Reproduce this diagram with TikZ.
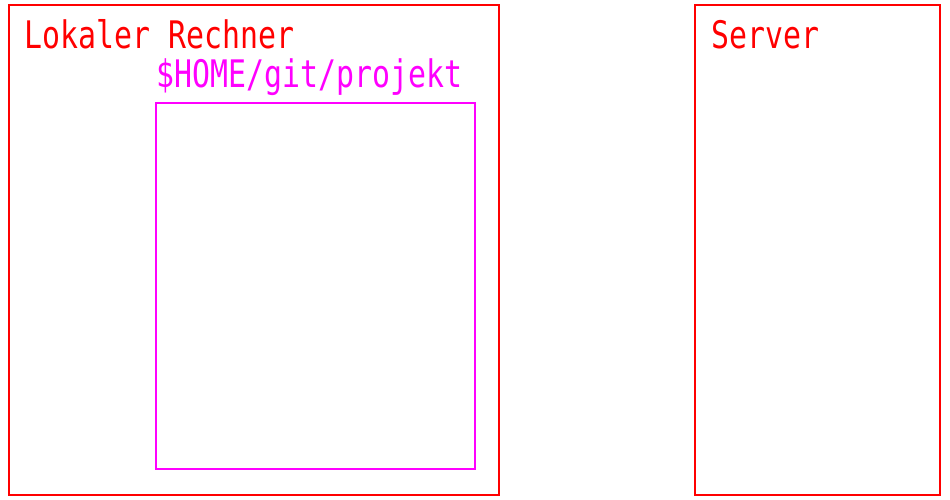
\documentclass[tikz,border=0pt]{standalone}
\usepackage{graphicx}
\usepackage{fontspec}
\setmonofont{DejaVu Sans Mono}
\usepackage{tikz}
\definecolor{cadred}{RGB}{255,0,0}
\definecolor{cadmagenta}{RGB}{255,0,255}
% schmale, hohe Schrift wie im Plan
\newcommand{\cadtext}[1]{\scalebox{1}[1.27]{#1}}
\tikzset{
  frame/.style   = {shape=rectangle, draw=cadred, line width=1.1pt,
                    inner sep=0pt, outer sep=0pt},
  folder/.style  = {frame, draw=cadmagenta},
  caption/.style = {anchor=base west, inner sep=0pt,
                    font=\fontsize{17}{20}\selectfont\ttfamily},
}

\begin{document}
\begin{tikzpicture}[x=0.02cm, y=-0.02cm]
  \useasboundingbox (0,0) rectangle (950,500);

  % Rechner links, Server rechts
  \node [frame, minimum width=490*0.02cm, minimum height=490*0.02cm, anchor=north west]
    (rechner) at (9,5) {};
  \node [frame, minimum width=245*0.02cm, minimum height=490*0.02cm, anchor=north west]
    (server) at (695,5) {};

  % Arbeitsverzeichnis im Rechner
  \node [folder, minimum width=319*0.02cm, minimum height=366*0.02cm, anchor=north west]
    (projekt) at (156,103) {};

  \node [caption, text=cadred] (rechnerlabel) at (24,49) {\cadtext{Lokaler Rechner}};
  \node [caption, text=cadred] (serverlabel) at (711,49) {\cadtext{Server}};
  \node [caption, text=cadmagenta] (projektlabel) at (156,88) {\cadtext{\$HOME/git/projekt}};
\end{tikzpicture}
\end{document}
